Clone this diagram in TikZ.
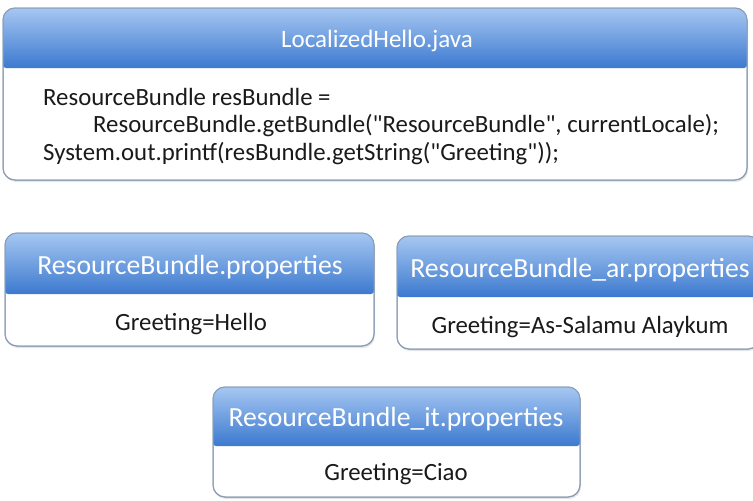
\documentclass[tikz,border=0pt]{standalone}
\usepackage{fontspec}
\setmainfont{Carlito}
\usetikzlibrary{shadows}
\definecolor{bordc}{HTML}{8A9DB5}
\definecolor{htop}{HTML}{A6C7F2}
\definecolor{hbot}{HTML}{3C79CF}
\definecolor{btext}{HTML}{1A1A1A}
\tikzset{x=1pt,y=-1pt,
  outerbox/.style={draw=bordc, line width=1pt, rounded corners=12pt, fill=white,
    drop shadow={opacity=0.2, shadow xshift=1pt, shadow yshift=-2pt}},
  headbox/.style={top color=htop, bottom color=hbot, draw=none},
  headtext/.style={text=white, inner sep=0pt, font=\fontsize{25}{30}\selectfont},
  smallhead/.style={headtext, font=\fontsize{27.7}{32}\selectfont},
  bodytext/.style={text=btext, inner sep=0pt, font=\fontsize{24.8}{29}\selectfont}}
\newcommand{\propbox}[5]{%
  \path[outerbox] (#1,#2) rectangle (#3,#4);
  \path[headbox] (#1,#5) [rounded corners=12pt] -- (#1,#2) -- (#3,#2) [rounded corners=3pt] -- (#3,#5) -- cycle;
  \draw[bordc, line width=1pt, rounded corners=12pt] (#1,#2) rectangle (#3,#4);}
\begin{document}
\begin{tikzpicture}
\useasboundingbox (0,0) rectangle (753,501);
% top box
\propbox{3}{8}{747}{180}{68}
\node[headtext] (jh) at (377,41) {LocalizedHello.java};
\node[bodytext, anchor=base west] (l1) at (43,105) {ResourceBundle resBundle =};
\node[bodytext, anchor=base west] (l2) at (93,132) {ResourceBundle.getBundle(\textquotedbl ResourceBundle\textquotedbl, currentLocale);};
\node[bodytext, anchor=base west] (l3) at (43,160) {System.out.printf(resBundle.getString(\textquotedbl Greeting\textquotedbl));};
% default
\propbox{5}{233}{374}{346}{294}
\node[smallhead] (dh) at (190,267) {ResourceBundle.properties};
\node[bodytext] (db) at (191,324) {Greeting=Hello};
% arabic
\propbox{397}{236}{760}{349}{297}
\node[smallhead] (ah) at (580,270) {ResourceBundle\_ar.properties};
\node[bodytext] (ab) at (580,327) {Greeting=As-Salamu Alaykum};
% italian
\propbox{213}{387}{580}{497}{446}
\node[smallhead] (ih) at (396,419) {ResourceBundle\_it.properties};
\node[bodytext] (ib) at (396,474) {Greeting=Ciao};
\end{tikzpicture}
\end{document}
